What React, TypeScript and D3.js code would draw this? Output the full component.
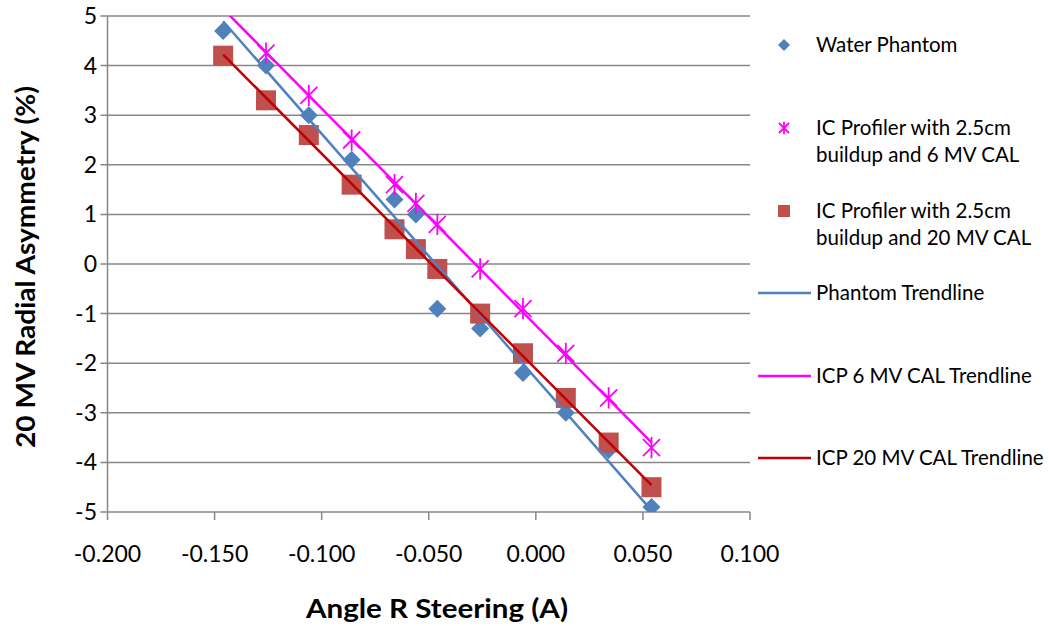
import React from "react";
import * as d3 from "d3";

const xValues = [-0.146, -0.126, -0.106, -0.086, -0.066, -0.056, -0.046, -0.026, -0.006, 0.014, 0.034, 0.054];
const waterPhantom = [4.7, 4.0, 3.0, 2.1, 1.3, 1.0, -0.9, -1.3, -2.2, -3.0, -3.75, -4.9];
const icp6 = [5.15, 4.25, 3.4, 2.5, 1.6, 1.22, 0.8, -0.1, -0.9, -1.8, -2.7, -3.7];
const icp20 = [4.2, 3.3, 2.6, 1.6, 0.7, 0.3, -0.1, -1.0, -1.8, -2.7, -3.6, -4.5];
const xTicks = [-0.2, -0.15, -0.1, -0.05, 0, 0.05, 0.1];
const yTicks = [5, 4, 3, 2, 1, 0, -1, -2, -3, -4, -5];
const legendLabels = [
  ["Water Phantom"],
  ["IC Profiler with 2.5cm", "buildup and 6 MV CAL"],
  ["IC Profiler with 2.5cm", "buildup and 20 MV CAL"],
  ["Phantom Trendline"],
  ["ICP 6 MV CAL Trendline"],
  ["ICP 20 MV CAL Trendline"],
];

const BLUE = "#4F81BD";
const MAGENTA = "#FF00FF";
const RED_M = "#C0504D";
const RED_L = "#C00000";
const GRID = "#878787";
const FONT = "Lato, 'Open Sans', sans-serif";

function fit(xs: number[], ys: number[]) {
  const mx = d3.mean(xs)!;
  const my = d3.mean(ys)!;
  let num = 0, den = 0;
  xs.forEach((x, i) => { num += (x - mx) * (ys[i] - my); den += (x - mx) ** 2; });
  const b = num / den;
  const a = my - b * mx;
  return (x: number) => a + b * x;
}

export default function App() {
  const left = 107.5, right = 750, top = 16, bottom = 512;
  const x = d3.scaleLinear().domain([-0.2, 0.1]).range([left, right]);
  const y = d3.scaleLinear().domain([-5, 5]).range([bottom, top]);
  const inRange = (v: number) => v >= -5 && v <= 5;

  const x0 = d3.min(xValues)!, x1 = d3.max(xValues)!;
  const fBlue = fit(xValues, waterPhantom);
  const fMag = fit(xValues, icp6);
  const fRed = fit(xValues, icp20);
  const lineFor = (f: (x: number) => number) =>
    d3.line<number>().x(v => x(v)).y(v => y(f(v)))([x0, x1])!;

  const diamond = (cx: number, cy: number, r: number) =>
    `M${cx},${cy - r}L${cx + r},${cy}L${cx},${cy + r}L${cx - r},${cy}Z`;
  const asterisk = (cx: number, cy: number, r: number) =>
    `M${cx - r},${cy - r}L${cx + r},${cy + r}M${cx - r},${cy + r}L${cx + r},${cy - r}M${cx},${cy - r * 1.25}L${cx},${cy + r * 1.25}`;

  const fmtX = (t: number) => d3.format(".3f")(t).replace("\u2212", "-");

  const legendY = [45, 128, 211, 293, 376, 458];

  return (
    <svg width={1049} height={626} style={{ position: "absolute", left: 0, top: 0, background: "#fff" }}>
      <defs>
        <clipPath id="plot">
          <rect x={left} y={top} width={right - left} height={bottom - top} />
        </clipPath>
      </defs>
      {/* grid */}
      {yTicks.map(t => (
        <line key={"g" + t} x1={left - 7} x2={right} y1={y(t)} y2={y(t)} stroke={GRID} strokeWidth={1.5} />
      ))}
      <line x1={left} x2={left} y1={top} y2={bottom} stroke={GRID} strokeWidth={1.5} />
      {xTicks.map(t => (
        <line key={"xt" + t} x1={x(t)} x2={x(t)} y1={bottom} y2={bottom + 8} stroke={GRID} strokeWidth={1.5} />
      ))}
      {/* tick labels */}
      {yTicks.map(t => (
        <text key={"yl" + t} x={97} y={y(t)} dy="0.35em" textAnchor="end" fontFamily={FONT} fontSize={23} fill="#000">{fmtX(t).replace(".000", "")}</text>
      ))}
      {xTicks.map(t => (
        <text key={"xl" + t} x={x(t)} y={554} dy="0.35em" textAnchor="middle" fontFamily={FONT} fontSize={23} fill="#000">{fmtX(t)}</text>
      ))}
      {/* axis titles */}
      <text x={437} y={609} dy="0.35em" textAnchor="middle" fontFamily={FONT} fontWeight="bold" fontSize={26} textLength={262} lengthAdjust="spacingAndGlyphs" fill="#000">Angle R Steering (A)</text>
      <text transform={`translate(26,267) rotate(-90)`} dy="0.35em" textAnchor="middle" fontFamily={FONT} fontWeight="bold" fontSize={26} textLength={362} lengthAdjust="spacingAndGlyphs" fill="#000">20 MV Radial Asymmetry (%)</text>

      <g clipPath="url(#plot)">
        {xValues.map((v, i) => inRange(waterPhantom[i]) && (
          <path key={"d" + i} d={diamond(x(v), y(waterPhantom[i]), 9)} fill={BLUE} />
        ))}
        {xValues.map((v, i) => inRange(icp6[i]) && (
          <path key={"a" + i} d={asterisk(x(v), y(icp6[i]), 8.5)} stroke={MAGENTA} strokeWidth={1.8} fill="none" />
        ))}
        {xValues.map((v, i) => inRange(icp20[i]) && (
          <rect key={"s" + i} x={x(v) - 10} y={y(icp20[i]) - 10} width={20} height={20} fill={RED_M} />
        ))}
        <path d={lineFor(fBlue)} stroke={BLUE} strokeWidth={2.5} fill="none" />
        <path d={lineFor(fMag)} stroke={MAGENTA} strokeWidth={2.5} fill="none" />
        <path d={lineFor(fRed)} stroke={RED_L} strokeWidth={2.5} fill="none" />
      </g>

      {/* legend */}
      <path d={diamond(784, legendY[0], 6)} fill={BLUE} />
      <path d={asterisk(784, legendY[1], 5)} stroke={MAGENTA} strokeWidth={1.8} fill="none" />
      <rect x={778} y={legendY[2] - 6} width={12} height={12} fill={RED_M} />
      <line x1={758} x2={811} y1={legendY[3]} y2={legendY[3]} stroke={BLUE} strokeWidth={2.5} />
      <line x1={758} x2={811} y1={legendY[4]} y2={legendY[4]} stroke={MAGENTA} strokeWidth={2.5} />
      <line x1={758} x2={811} y1={legendY[5]} y2={legendY[5]} stroke={RED_L} strokeWidth={2.5} />
      {legendLabels.map((lines, i) => (
        <text key={"lg" + i} x={816} y={legendY[i]} fontFamily={FONT} fontSize={20.5} fill="#000">
          {lines.map((l, j) => (
            <tspan key={j} x={816} dy={j === 0 ? "0.35em" : 27}>{l}</tspan>
          ))}
        </text>
      ))}
    </svg>
  );
}
